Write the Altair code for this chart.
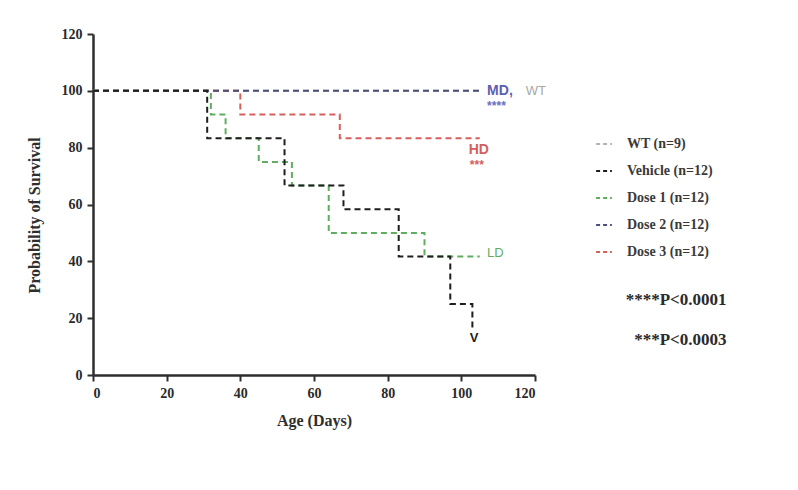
import altair as alt
import pandas as pd

# ---- data ----
series = ["WT (n=9)", "Vehicle (n=12)", "Dose 1 (n=12)", "Dose 2 (n=12)", "Dose 3 (n=12)"]
colors = ["#b3b3b3", "#1e1e1e", "#5fae5f", "#4c5078", "#d4605c"]

wt_days = [0, 105]
wt_surv = [100, 100]
veh_days = [0, 31, 52, 68, 83, 97, 103]
veh_surv = [100, 83.3, 66.7, 58.3, 41.7, 25.0, 16.7]
d1_days = [0, 32, 36, 45, 54, 64, 90, 105]
d1_surv = [100, 91.7, 83.3, 75.0, 66.7, 50.0, 41.7, 41.7]
d2_days = [0, 105]
d2_surv = [100, 100]
d3_days = [0, 40, 67, 105]
d3_surv = [100, 91.7, 83.3, 83.3]

# annotation labels (text, day, survival, colour)
ann_text = ["MD,", "WT", "****", "HD", "***", "LD", "V"]
ann_day = [107.0, 117.5, 107.0, 102.0, 102.3, 107.0, 102.3]
ann_surv = [100.0, 100.0, 94.8, 79.3, 74.0, 43.0, 13.0]
ann_color = ["#5b5fb3", "#a8a8a8", "#6a6fc0", "#d4605c", "#d4605c", "#5fae5f", "#1e1e1e"]
ann_size = [14, 13, 12, 14, 12, 13, 13]
ann_weight = ["bold", "normal", "bold", "bold", "bold", "normal", "bold"]

p_text = ["****P<0.0001", "***P<0.0003"]
p_day = [172.0, 172.0]
p_surv = [26.4, 12.3]

# ---- build tables (draw order: WT, Dose 3, Dose 1, Dose 2, Vehicle) ----
rows = []
order = [(0, wt_days, wt_surv), (4, d3_days, d3_surv), (2, d1_days, d1_surv),
         (3, d2_days, d2_surv), (1, veh_days, veh_surv)]
for k, (idx, dd, ss) in enumerate(order):
    for d, s in zip(dd, ss):
        rows.append({"group": series[idx], "day": d, "surv": s, "ord": k})
df = pd.DataFrame(rows)

ann = pd.DataFrame({"t": ann_text, "day": ann_day, "surv": ann_surv, "c": ann_color})
pdf = pd.DataFrame({"t": p_text, "day": p_day, "surv": p_surv})

xscale = alt.Scale(domain=[0, 120], nice=False)
yscale = alt.Scale(domain=[0, 120], nice=False)

serif = "Liberation Serif"

lines = alt.Chart(df).mark_line(
    interpolate="step-after", strokeDash=[6, 4], strokeWidth=2, clip=False
).encode(
    x=alt.X("day:Q", scale=xscale,
            axis=alt.Axis(values=[0, 20, 40, 60, 80, 100, 120], title="Age (Days)",
                          titlePadding=12)),
    y=alt.Y("surv:Q", scale=yscale,
            axis=alt.Axis(values=[0, 20, 40, 60, 80, 100, 120], title="Probability of Survival",
                          titlePadding=19, titleY=181)),
    color=alt.Color("group:N",
                    scale=alt.Scale(domain=series, range=colors),
                    legend=alt.Legend(title=None, orient="none", legendX=502, legendY=101,
                                      symbolType="stroke", symbolDash=[4, 3],
                                      symbolStrokeWidth=2, symbolSize=250,
                                      labelFont=serif, labelFontWeight="bold",
                                      labelFontSize=14, labelColor="#3a3a3a",
                                      rowPadding=11, labelOffset=14)),
    detail="ord:O",
    order="ord:O",
)

layers = [lines]
for i in range(len(ann_text)):
    sub = ann.iloc[[i]]
    layers.append(
        alt.Chart(sub).mark_text(
            align="left", baseline="middle", font="Liberation Sans",
            fontSize=ann_size[i], fontWeight=ann_weight[i], color=ann_color[i], clip=False
        ).encode(x=alt.X("day:Q", scale=xscale), y=alt.Y("surv:Q", scale=yscale), text="t:N")
    )

ptext = alt.Chart(pdf).mark_text(
    align="right", baseline="middle", font=serif, fontSize=17, fontWeight="bold",
    color="#2a2a2a", clip=False
).encode(x=alt.X("day:Q", scale=xscale), y=alt.Y("surv:Q", scale=yscale), text="t:N")
layers.append(ptext)

chart = alt.layer(*layers).properties(
    width=442, height=341,
    autosize=alt.AutoSizeParams(type="none"),
    padding={"left": 85, "top": 26, "right": 255, "bottom": 107},
    background="white",
).configure_view(stroke=None).configure_axis(
    grid=False,
    domainColor="#2e2e2e", domainWidth=2.5,
    tickColor="#2e2e2e", tickWidth=2, tickSize=6,
    labelFont=serif, labelFontWeight="bold", labelFontSize=14, labelColor="#2a2a2a",
    labelPadding=5,
    titleFont=serif, titleFontWeight="bold", titleFontSize=16, titleColor="#2e2e2e",
)

chart.save("out.html", embed_options={"renderer": "svg", "actions": False})
